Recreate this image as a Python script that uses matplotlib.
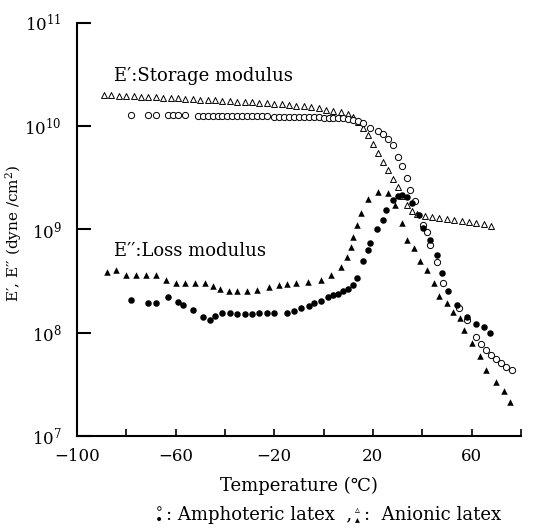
import matplotlib
matplotlib.use("Agg")
import matplotlib.pyplot as plt
from matplotlib.ticker import FixedLocator, FixedFormatter

plt.rcParams["font.family"] = ["DejaVu Serif", "DejaVu Sans"]
plt.rcParams["mathtext.fontset"] = "dejavuserif"

# E' storage modulus, anionic latex (open triangles): temperature (C), log10 E'
ani_stor_t = [-89, -86, -83, -80, -77, -74, -71, -68, -65, -62, -59, -56, -53, -50,
              -47, -44, -41, -38, -35, -32, -29, -26, -23, -20, -17, -14, -11, -8,
              -5, -2, 1, 4, 7, 10, 12, 14, 16, 18, 20, 22, 24, 26, 28, 30, 32, 34,
              36, 38, 41, 44, 47, 50, 53, 56, 59, 62, 65, 68]
ani_stor_log = [10.30, 10.30, 10.29, 10.29, 10.29, 10.28, 10.28, 10.28, 10.27, 10.27,
                10.27, 10.26, 10.26, 10.25, 10.25, 10.25, 10.24, 10.24, 10.23, 10.23,
                10.23, 10.22, 10.22, 10.21, 10.21, 10.20, 10.19, 10.19, 10.18, 10.17,
                10.16, 10.15, 10.14, 10.12, 10.09, 10.04, 9.98, 9.91, 9.83, 9.74,
                9.65, 9.57, 9.49, 9.41, 9.32, 9.24, 9.18, 9.15, 9.13, 9.12, 9.11,
                9.10, 9.09, 9.08, 9.07, 9.06, 9.05, 9.03]

# E' storage modulus, amphoteric latex (open circles)
amp_stor_t = [-78, -71, -68, -63, -61, -59, -56, -51, -49, -47, -45, -43, -41, -39,
              -37, -35, -33, -31, -29, -27, -25, -23, -20, -18, -16, -14, -12, -10,
              -8, -6, -4, -2, 0, 2, 4, 6, 8, 10, 12, 14, 16, 19, 22, 24, 26, 28, 30,
              32, 34, 35, 37, 40.5, 42, 43, 46, 48.6, 55, 58, 62, 64, 66, 68, 70,
              72, 74, 76.5]
amp_stor_log = [10.11, 10.11, 10.11, 10.11, 10.11, 10.11, 10.11, 10.10, 10.10, 10.10,
                10.10, 10.10, 10.10, 10.10, 10.10, 10.10, 10.10, 10.10, 10.10, 10.10,
                10.10, 10.10, 10.09, 10.09, 10.09, 10.09, 10.09, 10.09, 10.09, 10.09,
                10.09, 10.09, 10.08, 10.08, 10.08, 10.08, 10.08, 10.07, 10.06, 10.05,
                10.03, 9.98, 9.95, 9.92, 9.87, 9.82, 9.70, 9.61, 9.50, 9.38, 9.27,
                9.04, 8.97, 8.85, 8.68, 8.48, 8.24, 8.12, 7.96, 7.89, 7.83, 7.78,
                7.74, 7.71, 7.67, 7.64]

# E'' loss modulus, anionic latex (filled triangles)
ani_loss_t = [-88, -84, -80, -76, -72, -68, -64, -60, -56, -52, -48, -45, -42, -38.5,
              -35, -31, -27, -22, -18, -15, -11, -6.5, -1, 3, 7, 9.5, 11, 12, 13.7,
              15, 18, 22, 26, 29, 32, 34, 36.6, 39, 42, 44.6, 47, 50, 52.6, 55.5, 57,
              60, 63.6, 66, 70, 73, 75.7]
ani_loss_log = [8.59, 8.61, 8.56, 8.56, 8.56, 8.56, 8.51, 8.48, 8.48, 8.48, 8.48, 8.45,
                8.42, 8.40, 8.40, 8.40, 8.41, 8.44, 8.46, 8.47, 8.48, 8.49, 8.51, 8.56,
                8.64, 8.73, 8.83, 8.93, 9.04, 9.16, 9.29, 9.36, 9.35, 9.24, 9.06, 8.90,
                8.82, 8.69, 8.61, 8.48, 8.35, 8.29, 8.20, 8.14, 8.03, 7.90, 7.77, 7.64,
                7.52, 7.43, 7.33]

# E'' loss modulus, amphoteric latex (filled circles)
amp_loss_t = [-78, -71, -68, -63, -59, -57, -53, -49, -46, -44, -41, -38, -35, -32,
              -29, -26, -23, -20, -15, -12, -9, -6, -4, -1, 1.6, 4, 6, 8, 10, 12,
              13.7, 15.8, 18, 18.7, 21.5, 24, 25.5, 28, 30, 32, 34, 36, 38.5, 40.5,
              43, 46, 48, 50.6, 54, 58, 62, 65, 67.6]
amp_loss_log = [8.32, 8.29, 8.29, 8.34, 8.30, 8.27, 8.22, 8.15, 8.12, 8.16, 8.19, 8.19,
                8.18, 8.18, 8.18, 8.19, 8.19, 8.19, 8.19, 8.21, 8.24, 8.26, 8.29, 8.31,
                8.34, 8.36, 8.37, 8.40, 8.42, 8.46, 8.53, 8.69, 8.80, 8.87, 9.00, 9.09,
                9.19, 9.28, 9.32, 9.33, 9.31, 9.25, 9.14, 9.01, 8.90, 8.75, 8.58, 8.40,
                8.27, 8.15, 8.08, 8.05, 8.00]

x_ticks = [-100, -80, -60, -40, -20, 0, 20, 40, 60, 80]
x_tick_labels = ["\u2212100", "", "\u221260", "", "\u221220", "", "20", "", "60", ""]
y_ticks = [1e7, 1e8, 1e9, 1e10, 1e11]
y_tick_labels = ["$10^{7}$", "$10^{8}$", "$10^{9}$", "$10^{10}$", "$10^{11}$"]


def unlog(vals):
    return [10 ** v for v in vals]


fig = plt.figure(figsize=(5.42, 5.29), dpi=100)
ax = fig.add_axes([0.142, 0.176, 0.819, 0.781])

ax.scatter(ani_stor_t, unlog(ani_stor_log), marker="^", s=18, facecolors="white",
           edgecolors="black", linewidths=0.7, zorder=3)
ax.scatter(amp_stor_t, unlog(amp_stor_log), marker="o", s=20, facecolors="white",
           edgecolors="black", linewidths=0.7, zorder=3)
ax.scatter(ani_loss_t, unlog(ani_loss_log), marker="^", s=22, c="black",
           linewidths=0, zorder=4)
ax.scatter(amp_loss_t, unlog(amp_loss_log), marker="o", s=22, c="black",
           linewidths=0, zorder=4)

ax.set_yscale("log")
ax.set_xlim(-100, 80)
ax.set_ylim(1e7, 1e11)
ax.xaxis.set_major_locator(FixedLocator(x_ticks))
ax.xaxis.set_major_formatter(FixedFormatter(x_tick_labels))
ax.yaxis.set_major_locator(FixedLocator(y_ticks))
ax.yaxis.set_major_formatter(FixedFormatter(y_tick_labels))
ax.yaxis.set_minor_locator(FixedLocator([]))
ax.tick_params(axis="x", direction="in", length=5, width=1.2, labelsize=12, pad=9)
ax.tick_params(axis="y", direction="in", length=10, width=1.5, labelsize=12, pad=11)

for side in ("top", "right"):
    ax.spines[side].set_visible(False)
for side in ("left", "bottom"):
    ax.spines[side].set_linewidth(1.5)

ax.text(-85, 10 ** 10.48, "E\u2032:Storage modulus", fontsize=13, va="center")
ax.text(-85, 10 ** 8.79, "E\u2032\u2032:Loss modulus", fontsize=13, va="center")

ax.set_ylabel("E\u2032, E\u2032\u2032 (dyne /cm$^{2}$)", fontsize=11)
ax.yaxis.set_label_coords(-0.12, 0.49)
ax.set_xlabel("Temperature (\u2103)", fontsize=13, labelpad=8)

# legend line below the x label
fig.text(0.293, 0.027, "\u2218\n\u2022", fontsize=10, ha="center", va="center",
         linespacing=0.7, family="DejaVu Sans")
fig.text(0.307, 0.027, ": Amphoteric latex  ,", fontsize=13, va="center")
fig.text(0.66, 0.027, "\u25b5\n\u25b4", fontsize=7, ha="center", va="center",
         linespacing=0.85, family="DejaVu Sans")
fig.text(0.672, 0.027, ":  Anionic latex", fontsize=13, va="center")

fig.savefig("out.png", dpi=100, facecolor="white")
